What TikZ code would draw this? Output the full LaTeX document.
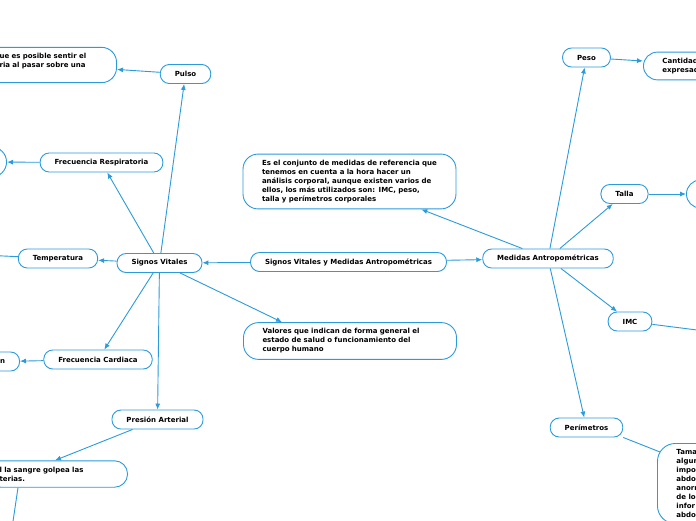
\documentclass[tikz,border=0pt]{standalone}
\usepackage{fontspec}
\setmainfont{DejaVu Sans}
\usepackage{xcolor}
\definecolor{MapBlau}{HTML}{2B9BDC}
\usetikzlibrary{positioning,arrows.meta}

\begin{document}
\begin{tikzpicture}[
    x=1pt, y=-1pt,
    topic/.style={draw=MapBlau, line width=0.9pt, fill=white, rounded corners=9pt, minimum height=19pt, inner xsep=14.5pt, inner ysep=2pt, font=\fontsize{7}{9}\selectfont\bfseries},
    note/.style={topic, rounded corners=15pt, align=left, inner xsep=19pt, inner ysep=6pt},
    link/.style={draw=MapBlau, line width=0.9pt, -{Latex[length=6pt,width=5pt]}},
    plain/.style={draw=MapBlau, line width=0.9pt},
]
\useasboundingbox (0,0) rectangle (696,520);
\fill[white] (0,0) rectangle (696,520);
\clip (0,0) rectangle (696,520);

% Mitte
\node[topic] (central) at (348.5,262) {Signos Vitales y Medidas Antropométricas};
\node[topic] (sv) at (159.5,263) {Signos Vitales};
\node[topic] (mam) at (548,258.5) {Medidas Antropométricas};
\node[note, text width=175pt] (desc) at (349.5,181.5) {Es el conjunto de medidas de referencia que\\tenemos en cuenta a la hora hacer un\\análisis corporal, aunque existen varios de\\ellos, los más utilizados son: IMC, peso,\\talla y perímetros corporales};
\node[note, text width=175pt] (valores) at (350,341) {Valores que indican de forma general el\\estado de salud o funcionamiento del\\cuerpo humano};

% Signos Vitales (links)
\node[topic] (pulso) at (185.5,74) {Pulso};
\node[note, text width=101pt, inner xsep=16pt, anchor=east] (pulsotxt) at (117,65) {ue es posible sentir el\\ria al pasar sobre una\\\mbox{}};
\node[topic] (fr) at (101.5,162.5) {Frecuencia Respiratoria};
\node[note, minimum width=60pt, minimum height=30pt, anchor=east] (frtxt) at (7,162) {};
\node[topic] (temp) at (58,258.5) {Temperatura};
\coordinate (tempend) at (-40,254);
\node[topic] (fc) at (98,359.5) {Frecuencia Cardiaca};
\node[topic, anchor=east] (fctxt) at (20,361.5) {n};
\node[topic] (pa) at (157.5,419.5) {Presión Arterial};
\node[note, text width=116pt, inner xsep=12pt, rounded corners=13pt, anchor=east] (patxt) at (128,474) {l la sangre golpea las\\terias.};
\coordinate (paend) at (8,555);

% Medidas Antropometricas (rechts)
\node[topic] (peso) at (586.5,57.5) {Peso};
\node[note, text width=60pt, rounded corners=14pt, anchor=west] (pesotxt) at (643,66) {Cantidad\\expresad};
\node[topic] (talla) at (624.5,194) {Talla};
\node[note, minimum width=50pt, minimum height=28pt, rounded corners=14pt, anchor=west] (tallatxt) at (686,194) {};
\node[topic] (imc) at (630,321.5) {IMC};
\coordinate (imcend) at (760,338);
\node[topic] (per) at (586.5,427.5) {Perímetros};
\node[note, text width=80pt, rounded corners=18pt, anchor=north west] (pertxt) at (657,443) {Tama\\algun\\impo\\abdo\\anorr\\de lo\\infor\\abdo};

% Verbindungen
\draw[link] (central) -- (sv);
\draw[link] (central) -- (mam);
\draw[link] (mam) -- (desc);
\draw[link] (sv) -- ([xshift=39pt]valores.north west);
\draw[link] (sv) -- (pulso);
\draw[link] (pulso) -- (pulsotxt);
\draw[link] (sv) -- (fr);
\draw[link] (fr) -- (frtxt);
\draw[link] (sv) -- (temp);
\draw[link] (temp) -- (tempend);
\draw[link] (sv) -- (fc);
\draw[link] (fc) -- (fctxt);
\draw[link] (sv) -- (pa);
\draw[link] (pa) -- ([xshift=-73pt]patxt.north east);
\draw[link] ([xshift=-110pt]patxt.south east) -- (paend);
\draw[link] (mam) -- (peso);
\draw[link] (peso) -- ([yshift=5pt]pesotxt.west);
\draw[link] (mam) -- (talla);
\draw[link] (talla) -- (tallatxt);
\draw[link] (mam) -- (imc);
\draw[link] (imc) -- (imcend);
\draw[link] (mam) -- (per);
\draw[plain] (per.south east) -- ([xshift=3pt,yshift=-9pt]pertxt.north west);

\end{tikzpicture}
\end{document}
